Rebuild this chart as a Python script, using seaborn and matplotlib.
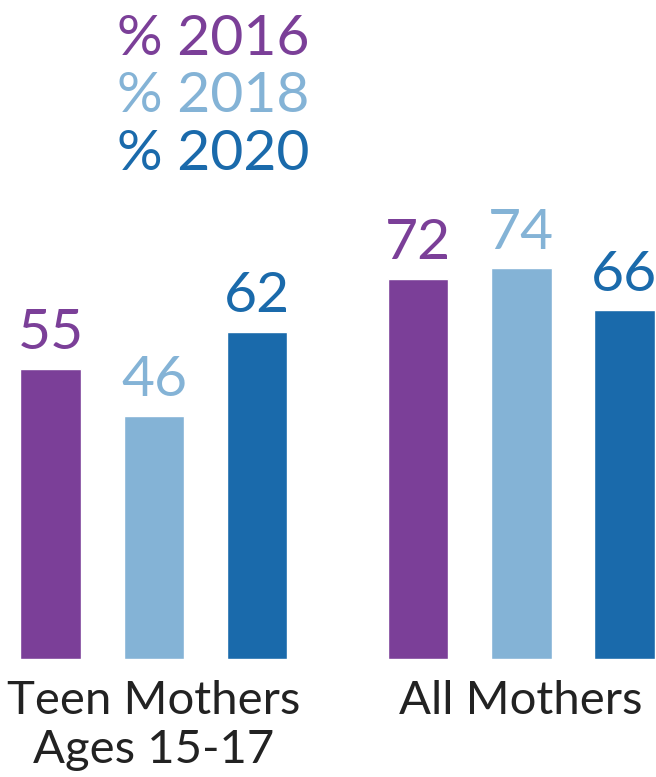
import pandas as pd
import matplotlib
matplotlib.use("Agg")
import matplotlib.pyplot as plt
import seaborn as sns

# Data
groups = ["Teen Mothers\nAges 15-17", "All Mothers"]
years = ["2016", "2018", "2020"]
teen_values = [55, 46, 62]
all_values = [72, 74, 66]
colors = ["#7b3f98", "#84b3d6", "#1a6aab"]

df = pd.DataFrame({
    "group": [groups[0]] * 3 + [groups[1]] * 3,
    "year": years + years,
    "value": teen_values + all_values,
})

sns.set_style("white")
plt.rcParams["font.family"] = ["Lato", "DejaVu Sans"]

fig = plt.figure(figsize=(6.56, 7.77), dpi=100)
ax = fig.add_axes([0, 118 / 777, 1, 659 / 777])

sns.barplot(data=df, x="group", y="value", hue="year", hue_order=years,
            palette=colors, width=0.842, gap=0.408, saturation=1,
            legend=False, ax=ax)

# value labels above each bar, same colour as the bar
for cont, col in zip(ax.containers, colors):
    ax.bar_label(cont, fmt="%d", padding=7, color=col, fontsize=41)

ax.set_xlim(-0.4196, 1.3678)
ax.set_ylim(0, 124.8)
ax.set_xlabel("")
ax.set_ylabel("")
ax.set_yticks([])
ax.tick_params(axis="x", length=0, pad=15, labelsize=34, labelcolor="#222222")
for lbl in ax.get_xticklabels():
    lbl.set_linespacing(1.2)
sns.despine(ax=ax, left=True, bottom=True, top=True, right=True)

# coloured year headings in place of a legend
for i, (yr, col) in enumerate(zip(years, colors)):
    fig.text(117 / 656, 1 - (55 + i * 57.5) / 777, f"% {yr}", color=col,
             fontsize=41, ha="left", va="baseline")

fig.savefig("out.png", dpi=100)
